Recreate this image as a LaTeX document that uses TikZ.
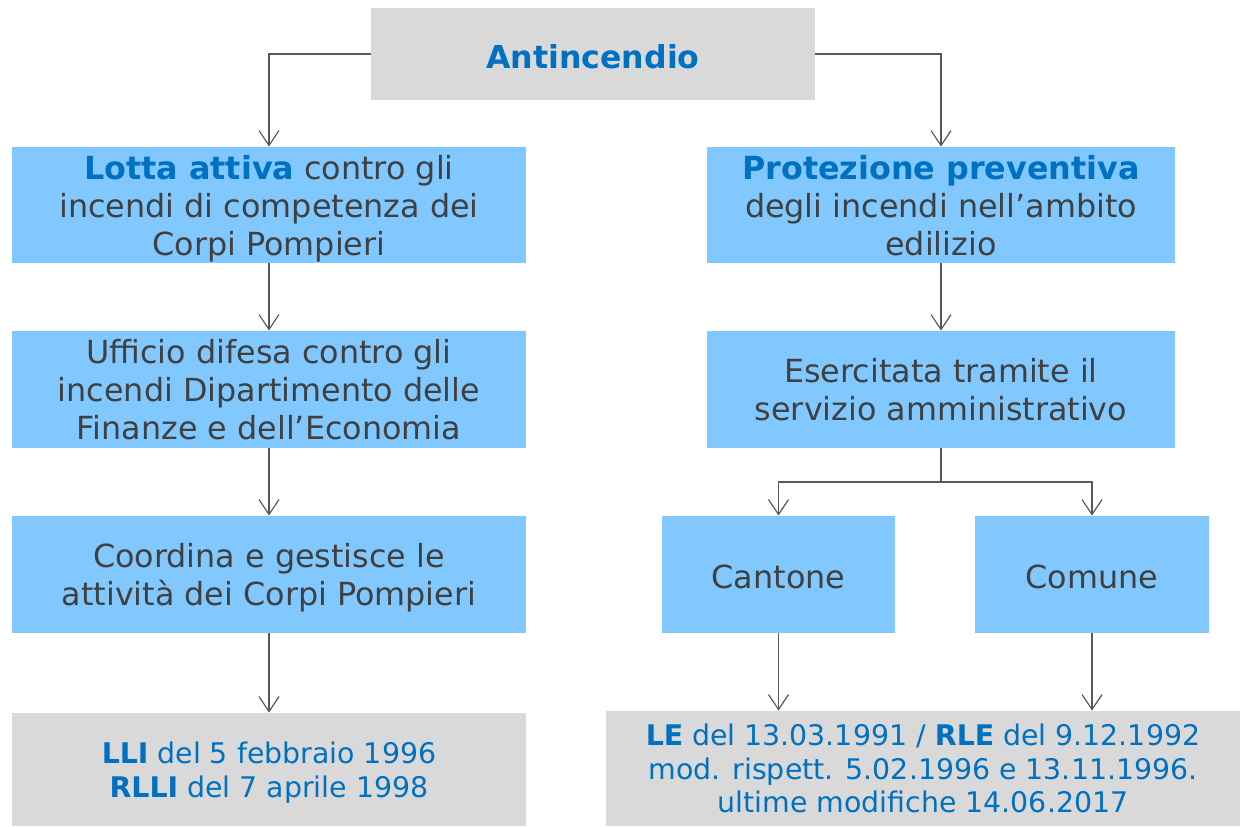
\documentclass[tikz,border=0pt]{standalone}
\usepackage{fontspec}
\setmainfont{DejaVu Sans}
\usetikzlibrary{arrows.meta}
\definecolor{celeste}{HTML}{80C8FF}
\definecolor{grigio}{HTML}{D9D9D9}
\definecolor{blu}{HTML}{0070C0}
\definecolor{testo}{HTML}{404040}
\definecolor{linea}{HTML}{595959}
\newcommand{\bl}[1]{\textcolor{blu}{\textbf{#1}}}
\newcommand{\supra}{\rule{0pt}{1.05\baselineskip}}
\newcommand{\infra}{\rule[-0.3\baselineskip]{0pt}{0pt}}
\tikzset{
	box/.style={fill=celeste, text=testo, align=center, inner sep=0pt, font=\fontsize{15.9}{19}\selectfont, execute at begin node=\supra, execute at end node=\infra},
	norma/.style={fill=grigio, text=blu, align=center, inner sep=0pt, font=\fontsize{14.2}{16.8}\selectfont, execute at begin node=\supra, execute at end node=\infra},
	righe/.style={text depth=-2.3pt},
	freccia/.style={draw=linea, line width=0.6pt, -{Straight Barb[length=7.5pt, width=10pt]}}
}
\begin{document}
\begin{tikzpicture}[x=0.5pt, y=-0.5pt]
		\useasboundingbox (0,0) rectangle (1240,826);
		\node [norma, minimum width=222pt, minimum height=46pt, font=\fontsize{15.8}{19}\selectfont\bfseries] (top) at (593,54) {Antincendio};
		\node [box, righe, minimum width=257pt, minimum height=58pt] (lotta) at (269,205) {\bl{Lotta attiva} contro gli\\incendi di competenza dei\\Corpi Pompieri};
		\node [box, righe, minimum width=257pt, minimum height=58.5pt] (ufficio) at (269,389.5) {Ufficio difesa contro gli\\incendi Dipartimento delle\\Finanze e dell’Economia};
		\node [box, righe, minimum width=257pt, minimum height=58.5pt] (coord) at (269,574.5) {Coordina e gestisce le\\attività dei Corpi Pompieri};
		\node [norma, righe, minimum width=257pt, minimum height=56.5pt] (lli) at (269,769.5) {\textbf{LLI} del 5 febbraio 1996\\\textbf{RLLI} del 7 aprile 1998};
		\node [box, righe, minimum width=234pt, minimum height=58pt] (prot) at (941,205) {\bl{Protezione preventiva}\\degli incendi nell’ambito\\edilizio};
		\node [box, righe, minimum width=234pt, minimum height=58.5pt] (eserc) at (941,389.5) {Esercitata tramite il\\servizio amministrativo};
		\node [box, minimum width=116.5pt, minimum height=58.5pt] (cantone) at (778.5,574.5) {Cantone};
		\node [box, minimum width=117pt, minimum height=58.5pt] (comune) at (1092,574.5) {Comune};
		\node [norma, righe, minimum width=317pt, minimum height=57.5pt] (le) at (923,768.5) {\textbf{LE} del 13.03.1991 / \textbf{RLE} del 9.12.1992\\mod. rispett. 5.02.1996 e 13.11.1996.\\ultime modifiche 14.06.2017};
		\coordinate (bivio) at (941,482);
		
		\draw [freccia] (top.west) -| (lotta.north);
		\draw [freccia] (top.east) -| (prot.north);
		\draw [freccia] (lotta) -- (ufficio);
		\draw [freccia] (ufficio) -- (coord);
		\draw [freccia] (coord) -- (lli);
		\draw [freccia] (prot) -- (eserc);
		\draw [draw=linea, line width=0.6pt] (eserc.south) -- (bivio);
		\draw [freccia] (bivio) -| (cantone.north);
		\draw [freccia] (bivio) -| (comune.north);
		\draw [freccia] (cantone.south) -- (cantone.south |- le.north);
		\draw [freccia] (comune.south) -- (comune.south |- le.north);
		
\end{tikzpicture}
\end{document}
